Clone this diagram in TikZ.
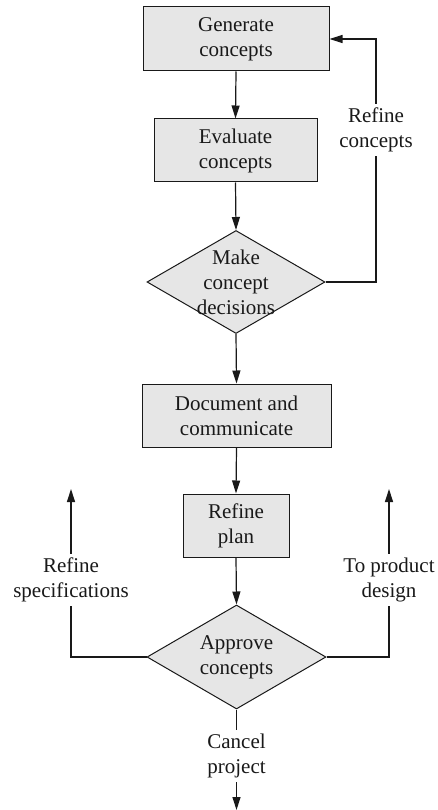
\documentclass[tikz,border=0pt]{standalone}
\usepackage{fontspec}
\setmainfont{Liberation Serif}
\usetikzlibrary{arrows.meta, positioning, calc, shapes.geometric}
\definecolor{fcGray}{RGB}{230,230,230}
\definecolor{fcInk}{RGB}{25,25,25}

\begin{document}
\begin{tikzpicture}[x=1pt,y=-1pt,
  font=\fontsize{21}{25}\selectfont,
  stepbox/.style={draw=fcInk,fill=fcGray,line width=1pt,align=center,
                  inner sep=0pt,text=fcInk},
  choice/.style={draw=fcInk,fill=fcGray,line width=1pt,shape=diamond,
                 inner sep=0pt},
  choicetxt/.style={align=center,inner sep=0pt,text=fcInk},
  note/.style={fill=white,align=center,inner xsep=2pt,inner ysep=4pt,text=fcInk},
  arr/.style={-{Triangle[length=13pt,width=8pt]},line width=1.2pt,draw=fcInk}]
\useasboundingbox (0,0) rectangle (437,810);

% ===== concept loop =====
\node[stepbox,minimum width=186pt,minimum height=64pt] (gen) at (236,39)
   {Generate\\concepts};
\node[stepbox,minimum width=163pt,minimum height=63pt] (eval) at (235.5,150.5)
   {Evaluate\\concepts};
\node[choice,minimum width=178pt,minimum height=103pt] (make) at (236,282) {};
\node[choicetxt] (maketxt) at (make.center) {Make\\concept\\decisions};

% ===== documentation and plan =====
\node[stepbox,minimum width=189pt,minimum height=63pt] (doc) at (236.5,415.5)
   {Document and\\communicate};
\node[stepbox,minimum width=106pt,minimum height=63pt] (plan) at (236,525.5)
   {Refine\\plan};
\node[choice,minimum width=179pt,minimum height=104pt] (appr) at (236.5,657) {};
\node[choicetxt] (apprtxt) at (appr.center) {Approve\\concepts};

% free ends
\coordinate (rc) at (376,39);
\coordinate (spec) at (71,489);
\coordinate (prod) at (389,489);
\coordinate (cancel) at (236.5,810);

% Main flow
\draw[arr] (gen.south) -- (eval.north);
\draw[arr] (eval.south) -- (make.north);
\draw[arr] (make.south) -- (doc.north);
\draw[arr] (doc.south) -- (plan.north);
\draw[arr] (plan.south) -- (appr.north);

% Feedback and exits
\draw[arr] (make.east) -| (rc) -- (gen.east);
\draw[arr] (appr.west) -| (spec);
\draw[arr] (appr.east) -| (prod);
\draw[arr] (appr.south) -- (cancel);

\node[note] (rclbl) at (376,130) {Refine\\concepts};
\node[note] (speclbl) at (71,580) {Refine\\specifications};
\node[note] (prodlbl) at (389,580) {To product\\design};
\node[note] (cancellbl) at (236.5,756) {Cancel\\project};
\end{tikzpicture}
\end{document}
